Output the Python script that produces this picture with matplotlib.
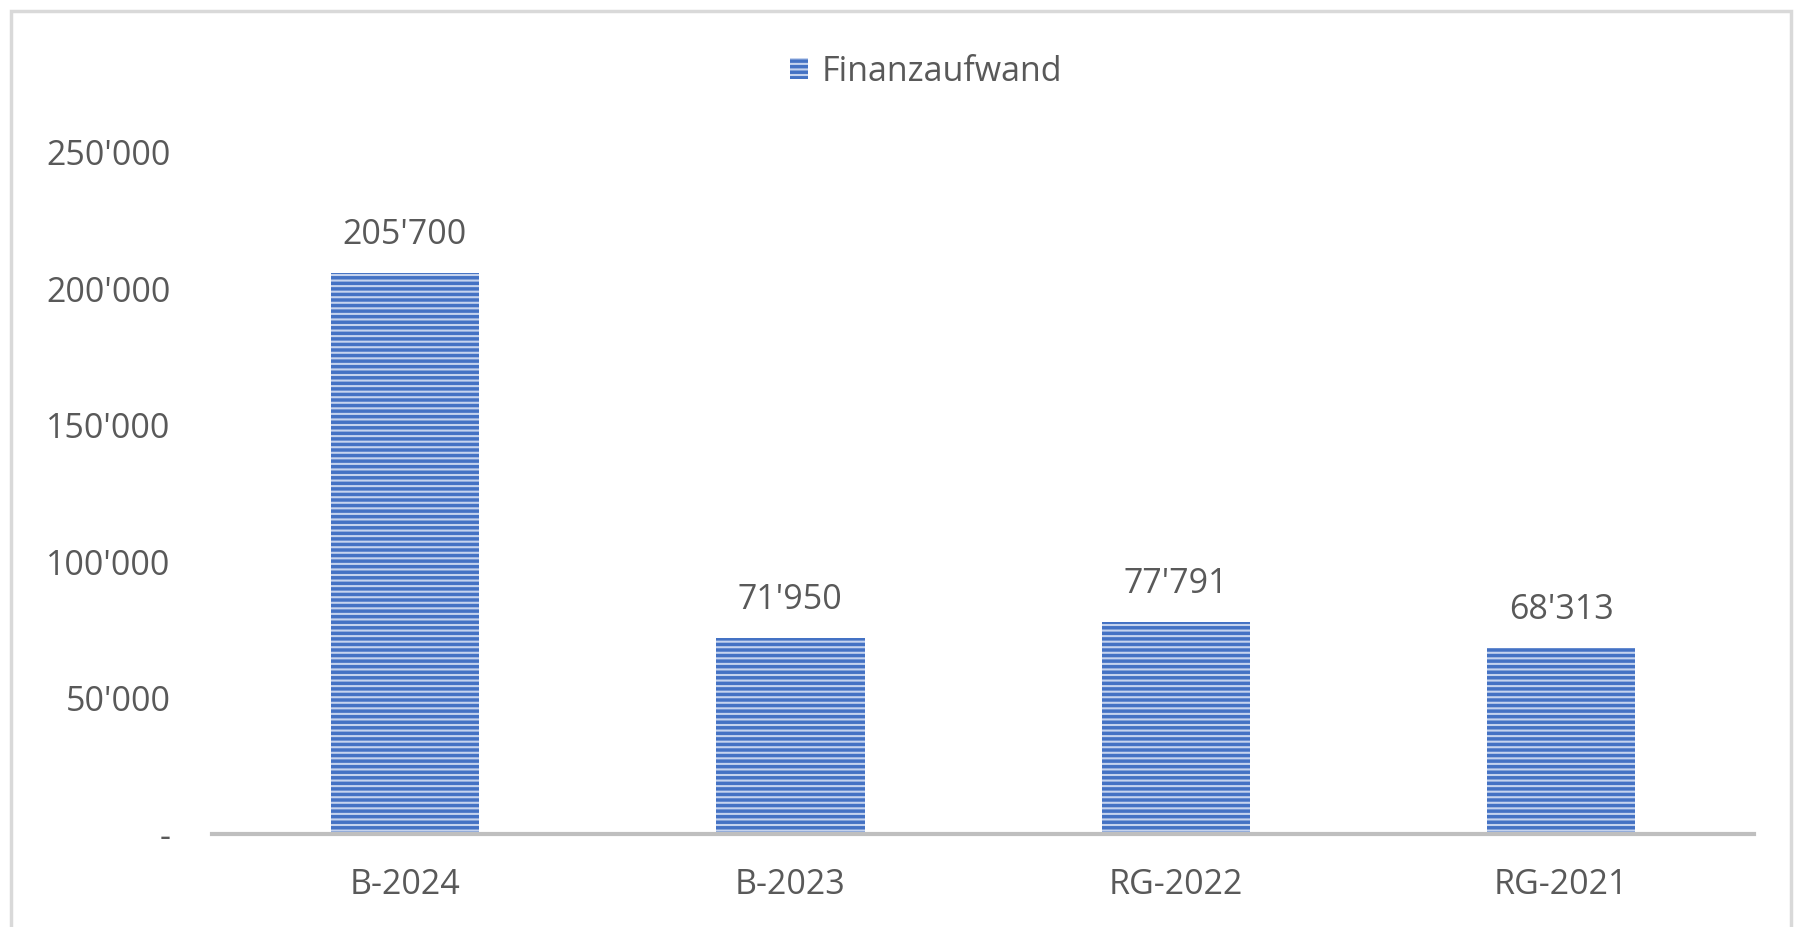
import matplotlib
matplotlib.use('Agg')
import matplotlib.pyplot as plt
from matplotlib.patches import Rectangle
from matplotlib.ticker import FuncFormatter

kategorien = ['B-2024', 'B-2023', 'RG-2022', 'RG-2021']
finanzaufwand = [205700, 71950, 77791, 68313]
serie = 'Finanzaufwand'

plt.rcParams['font.family'] = ['Open Sans', 'DejaVu Sans']
plt.rcParams['hatch.linewidth'] = 1.5
grau = '#595959'
fs = 24.5

def swiss(v, pos=None):
    if v == 0:
        return '-'
    return f"{int(round(v)):,}".replace(',', "'")

fig = plt.figure(figsize=(17.98, 9.27), dpi=100)
ax = fig.add_axes([0.118, 0.100, 0.8575, 0.7355])

x = range(len(kategorien))
bars = ax.bar(x, finanzaufwand, width=0.385, color='#4472C4', edgecolor='#C5D3EE',
              hatch='---', linewidth=0, label=serie)

for b, v in zip(bars, finanzaufwand):
    ax.annotate(swiss(v), (b.get_x() + b.get_width() / 2, v), xytext=(0, 15),
                textcoords='offset points', ha='center', va='bottom',
                fontsize=fs, color=grau)

ax.set_xlim(-0.5, 3.5)
ax.set_ylim(0, 250000)
ax.set_yticks([0, 50000, 100000, 150000, 200000, 250000])
ax.yaxis.set_major_formatter(FuncFormatter(swiss))
ax.set_xticks(list(x))
ax.set_xticklabels(kategorien)
ax.tick_params(axis='y', length=0, pad=30, labelsize=fs, labelcolor=grau)
ax.tick_params(axis='x', length=0, pad=24, labelsize=fs, labelcolor=grau)
for s in ['top', 'right', 'left']:
    ax.spines[s].set_visible(False)
ax.spines['bottom'].set_color('#BFBFBF')
ax.spines['bottom'].set_linewidth(3)

fig.legend(loc='upper center', bbox_to_anchor=(0.515, 0.974), frameon=False,
           fontsize=fs, labelcolor=grau, handlelength=0.55, handleheight=0.55,
           handletextpad=0.4)

fig.patches.append(Rectangle((0.006, -0.02), 0.99, 1.008, transform=fig.transFigure,
                             fill=False, edgecolor='#D9D9D9', linewidth=2.5))

plt.savefig('out.png', dpi=100)
